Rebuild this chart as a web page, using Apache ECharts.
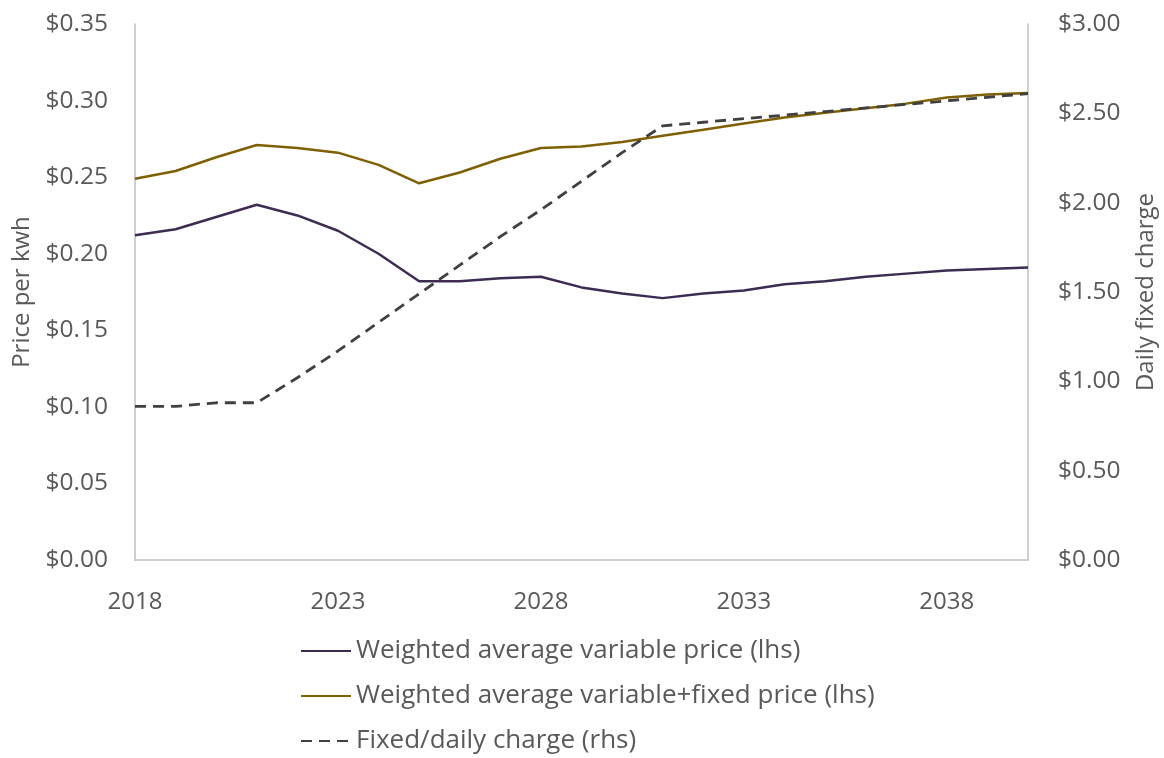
<!DOCTYPE html>
<html>
<head>
<meta charset="utf-8">
<script src="https://cdn.jsdelivr.net/npm/echarts@6/dist/echarts.min.js"></script>
<style>
  html, body { margin: 0; padding: 0; background: #fff; }
  #chart { width: 1164px; height: 758px; }
</style>
</head>
<body>
<div id="chart"></div>
<script>
// --- data ---
const years = [];
for (let y = 2018; y <= 2040; y++) years.push(String(y));

const variablePrice = [0.212, 0.216, 0.224, 0.232, 0.225, 0.215, 0.2, 0.182, 0.182, 0.184, 0.185, 0.178, 0.174, 0.171, 0.174, 0.176, 0.18, 0.182, 0.185, 0.187, 0.189, 0.19, 0.191];
const variableFixedPrice = [0.249, 0.254, 0.263, 0.271, 0.269, 0.266, 0.258, 0.246, 0.253, 0.262, 0.269, 0.27, 0.273, 0.277, 0.281, 0.285, 0.289, 0.292, 0.295, 0.298, 0.302, 0.304, 0.305];
const dailyCharge = [0.86, 0.86, 0.88, 0.88, 1.02, 1.17, 1.33, 1.49, 1.65, 1.81, 1.96, 2.12, 2.28, 2.43, 2.45, 2.47, 2.49, 2.51, 2.53, 2.55, 2.57, 2.59, 2.61];

const seriesNames = [
  'Weighted average variable price (lhs)',
  'Weighted average variable+fixed price (lhs)',
  'Fixed/daily charge (rhs)'
];

const chart = echarts.init(document.getElementById('chart'));
const textColor = '#595959';
const font = '"Open Sans", "Noto Sans", sans-serif';

chart.setOption({
  animation: false,
  textStyle: { fontFamily: font },
  grid: { left: 135, right: 136, top: 24, bottom: 198, outerBoundsMode: 'none', containLabel: false },
  legend: {
    orient: 'vertical',
    left: 300,
    top: 638,
    padding: 0,
    itemWidth: 50,
    itemHeight: 14,
    itemGap: 19,
    itemStyle: { opacity: 0 },
    textStyle: { color: textColor, fontSize: 26, lineHeight: 26, fontFamily: font },
    data: seriesNames
  },
  xAxis: {
    type: 'category',
    data: years,
    boundaryGap: false,
    axisLine: { lineStyle: { color: '#bfbfbf', width: 1.5 } },
    axisTick: { show: false },
    axisLabel: { interval: 4, color: textColor, fontSize: 24, margin: 30 },
    splitLine: { show: false }
  },
  yAxis: [
    {
      type: 'value',
      min: 0, max: 0.35, interval: 0.05,
      name: 'Price per kwh',
      nameLocation: 'middle',
      nameRotate: 90,
      nameGap: 101,
      nameTextStyle: { color: textColor, fontSize: 24 },
      axisLine: { show: true, lineStyle: { color: '#bfbfbf', width: 1.5 } },
      axisTick: { show: false },
      splitLine: { show: false },
      axisLabel: { color: textColor, fontSize: 24.5, margin: 27, formatter: v => '$' + v.toFixed(2) }
    },
    {
      type: 'value',
      min: 0, max: 3, interval: 0.5,
      name: 'Daily fixed charge',
      nameLocation: 'middle',
      nameRotate: 90,
      nameGap: 106,
      nameTextStyle: { color: textColor, fontSize: 24 },
      axisLine: { show: true, lineStyle: { color: '#bfbfbf', width: 1.5 } },
      axisTick: { show: false },
      splitLine: { show: false },
      axisLabel: { color: textColor, fontSize: 24.5, margin: 30, formatter: v => '$' + v.toFixed(2) }
    }
  ],
  series: [
    {
      name: seriesNames[0], type: 'line', yAxisIndex: 0, data: variablePrice,
      symbol: 'none', lineStyle: { color: '#3d2b52', width: 2.5 }, itemStyle: { color: '#3d2b52' }
    },
    {
      name: seriesNames[1], type: 'line', yAxisIndex: 0, data: variableFixedPrice,
      symbol: 'none', lineStyle: { color: '#7f6000', width: 2.5 }, itemStyle: { color: '#7f6000' }
    },
    {
      name: seriesNames[2], type: 'line', yAxisIndex: 1, data: dailyCharge,
      symbol: 'none', lineStyle: { color: '#404040', width: 2.8, type: [11, 7] }, itemStyle: { color: '#404040' }
    }
  ]
});
</script>
</body>
</html>
